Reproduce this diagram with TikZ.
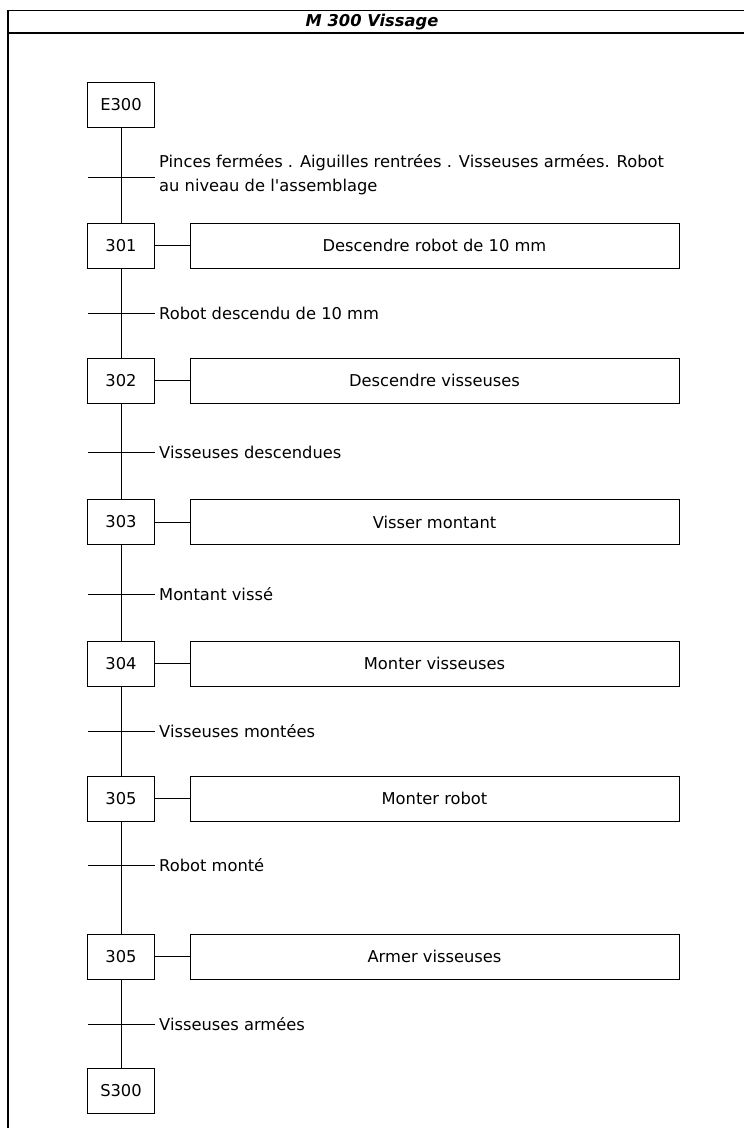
\documentclass[tikz,border=0pt]{standalone}
\usepackage{fontspec}
\setmainfont{DejaVu Sans}[Ligatures=TeXOff]
\usetikzlibrary{positioning}

\tikzset{
  stepbox/.style={draw,line width=0.9pt,minimum width=67pt,minimum height=45pt,inner sep=0pt},
  actbox/.style={draw,line width=0.9pt,minimum width=489pt,minimum height=45pt,inner sep=0pt},
  cond/.style={anchor=west,inner sep=0pt,align=left},
  link/.style={line width=0.9pt}
}

\begin{document}
\begin{tikzpicture}[x=1pt,y=-1pt,font=\fontsize{16.3}{24}\selectfont]
  \useasboundingbox (0,0) rectangle (744,1128);
  % cadre et titre
  \draw[line width=1.6pt] (8,10.5) rectangle (752,1140);
  \draw[line width=1.6pt] (8,33) -- (752,33);
  \node (titre) at (372,22) {\bfseries\itshape M 300 Vissage};
  \def\sx{121}\def\ax{434.5}
  % etapes
  \node[stepbox] (E300) at (\sx,105) {E300};
  \node[stepbox] (s301) at (\sx,245.5) {301};
  \node[stepbox] (s302) at (\sx,380.5) {302};
  \node[stepbox] (s303) at (\sx,522) {303};
  \node[stepbox] (s304) at (\sx,663.5) {304};
  \node[stepbox] (s305) at (\sx,798.5) {305};
  \node[stepbox] (s305b) at (\sx,956.5) {305};
  \node[stepbox] (S300) at (\sx,1091) {S300};
  % actions
  \node[actbox] (a301) at (\ax,245.5) {Descendre robot de 10 mm};
  \node[actbox] (a302) at (\ax,380.5) {Descendre visseuses};
  \node[actbox] (a303) at (\ax,522) {Visser montant};
  \node[actbox] (a304) at (\ax,663.5) {Monter visseuses};
  \node[actbox] (a305) at (\ax,798.5) {Monter robot};
  \node[actbox] (a305b) at (\ax,956.5) {Armer visseuses};
  % liaisons
  \draw[link] (E300) -- (s301);
  \draw[link] (s301) -- (s302);
  \draw[link] (s302) -- (s303);
  \draw[link] (s303) -- (s304);
  \draw[link] (s304) -- (s305);
  \draw[link] (s305) -- (s305b);
  \draw[link] (s305b) -- (S300);
  \foreach \s in {301,302,303,304,305,305b}
    \draw[link] (s\s) -- (a\s);
  % transitions
  \foreach \t/\y in {1/177,2/313,3/452,4/594,5/731,6/865,7/1024}{
    \coordinate (t\t l) at (88,\y);
    \coordinate (t\t r) at (155,\y);
    \draw[link] (t\t l) -- (t\t r);
  }
  \node[cond] (c1) at (159,175) {Pinces fermées . Aiguilles rentrées . Visseuses armées. Robot\\au niveau de l'assemblage};
  \node[cond] (c2) at (159,313) {Robot descendu de 10 mm};
  \node[cond] (c3) at (159,452) {Visseuses descendues};
  \node[cond] (c4) at (159,594) {Montant vissé};
  \node[cond] (c5) at (159,731) {Visseuses montées};
  \node[cond] (c6) at (159,865) {Robot monté};
  \node[cond] (c7) at (159,1024) {Visseuses armées};
\end{tikzpicture}
\end{document}
